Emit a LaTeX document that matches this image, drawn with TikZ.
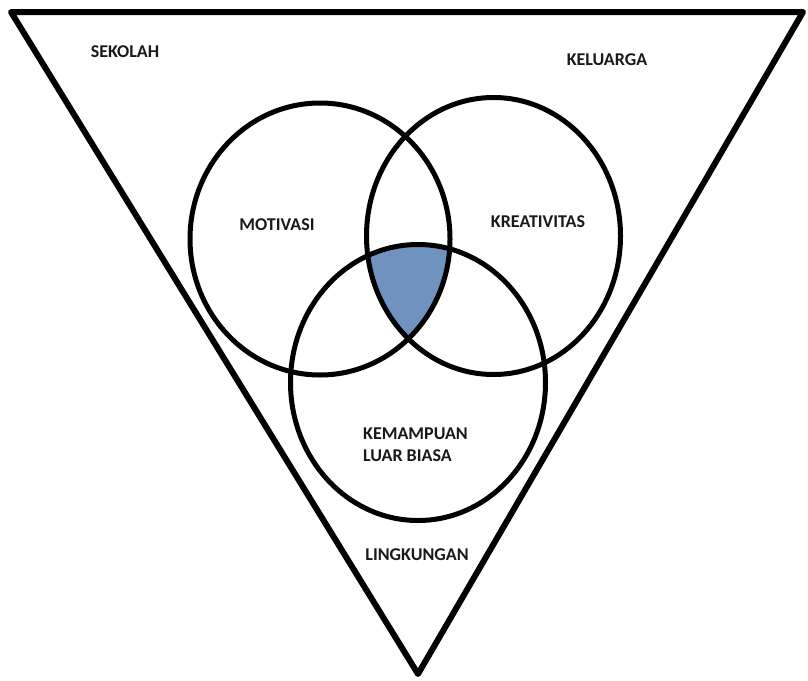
\documentclass[tikz,border=0pt]{standalone}
\usepackage{fontspec}
\setmainfont{Carlito}
\definecolor{vennblue}{RGB}{112,146,190}
\begin{document}
\begin{tikzpicture}[x=1pt,y=-1pt,
  lbl/.style={font=\bfseries\fontsize{18}{21}\selectfont, text=black!90, inner sep=0pt},
  ring/.style={line width=5pt},
  tri/.style={line width=6pt, line join=round}]
\useasboundingbox (0,0) rectangle (808,680);
% triangle
\coordinate (tl) at (11,12);
\coordinate (tr) at (803,12);
\coordinate (bt) at (418,674);
\draw[tri] (tl) -- (tr) -- (bt) -- cycle;
% shaded triple intersection
\begin{scope}
  \clip (320,239) ellipse [x radius=130, y radius=136];
  \clip (493.5,236) ellipse [x radius=127, y radius=138.5];
  \fill[vennblue] (418,382.5) ellipse [x radius=127.5, y radius=138];
\end{scope}
% circles
\draw[ring] (320,239) ellipse [x radius=130, y radius=136];
\draw[ring] (493.5,236) ellipse [x radius=127, y radius=138.5];
\draw[ring] (418,382.5) ellipse [x radius=127.5, y radius=138];
% labels
\node[lbl] (sekolah) at (125,52) {SEKOLAH};
\node[lbl] (keluarga) at (607,60) {KELUARGA};
\node[lbl] (motivasi) at (277,225) {MOTIVASI};
\node[lbl] (kreativitas) at (538,222) {KREATIVITAS};
\node[lbl, anchor=west, align=left] (kemampuan) at (363,445) {KEMAMPUAN\\[1pt]LUAR BIASA};
\node[lbl] (lingkungan) at (417,555) {LINGKUNGAN};
\end{tikzpicture}
\end{document}
